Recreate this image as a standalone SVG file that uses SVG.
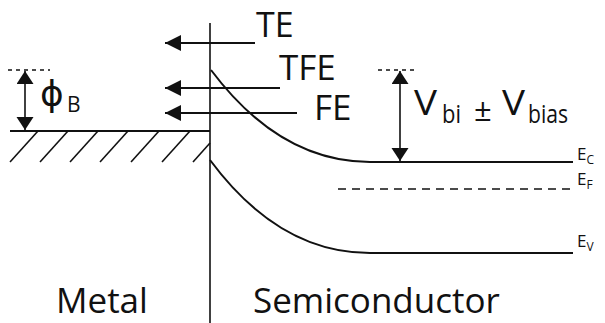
<svg xmlns="http://www.w3.org/2000/svg" width="605" height="323" viewBox="0 0 605 323">
<style>
.ln{stroke:#111;stroke-width:2;fill:none}
.thin{stroke:#111;stroke-width:1.6;fill:none}
.dash{stroke:#111;stroke-width:1.7;fill:none;stroke-dasharray:8 6}
.sdash{stroke:#111;stroke-width:1.5;fill:none;stroke-dasharray:4 4}
.t{font-family:"Open Sans","Noto Sans",sans-serif;fill:#111}
</style>
<defs>
<marker id="ah" markerUnits="userSpaceOnUse" markerWidth="17" markerHeight="17" refX="16" refY="8.5" orient="auto-start-reverse">
<path d="M0,0.5 L16,8.5 L0,16.5 z" fill="#111"/>
</marker>
<marker id="av" markerUnits="userSpaceOnUse" markerWidth="14" markerHeight="18" refX="13" refY="8.5" orient="auto-start-reverse">
<path d="M0,0 L13,8.5 L0,17 z" fill="#111"/>
</marker>
</defs>
<rect width="605" height="323" fill="#fff"/>
<g id="interface">
<line class="thin" x1="210" y1="23" x2="210" y2="323"/>
</g>
<g id="metal">
<line class="ln" x1="10" y1="131" x2="210" y2="131"/>
<g class="thin">
<line x1="38" y1="131" x2="10" y2="162"/>
<line x1="68" y1="131" x2="40" y2="162"/>
<line x1="98" y1="131" x2="70" y2="162"/>
<line x1="128" y1="131" x2="100" y2="162"/>
<line x1="159" y1="131" x2="131" y2="162"/>
<line x1="190" y1="131" x2="162" y2="162"/>
<line x1="210" y1="143" x2="193" y2="162"/>
</g>
<line class="sdash" x1="8" y1="70" x2="50" y2="70"/>
<line class="thin" x1="25" y1="71" x2="25" y2="130" marker-start="url(#av)" marker-end="url(#av)"/>
<text class="t" x="40" y="106" style="font-family:'DejaVu Sans',sans-serif" font-size="36">ϕ</text>
<text class="t" x="67" y="112" font-size="21">B</text>
<text class="t" x="56" y="313" font-size="35">Metal</text>
</g>
<g id="semiconductor">
<path class="ln" d="M211,70 Q280,162 370,162 L573,162"/>
<path class="ln" d="M210,160 Q279,253 370,253 L573,253"/>
<line class="dash" x1="338" y1="189" x2="570" y2="189"/>
<line class="sdash" x1="378" y1="70" x2="418" y2="70"/>
<line class="thin" x1="400" y1="71" x2="400" y2="161" marker-start="url(#av)" marker-end="url(#av)"/>
<text class="t" x="414" y="115" font-size="35" textLength="23" lengthAdjust="spacingAndGlyphs">V</text>
<text class="t" x="442" y="123" font-size="26" textLength="19" lengthAdjust="spacingAndGlyphs">bi</text>
<text class="t" x="474" y="121" font-size="31">±</text>
<text class="t" x="502" y="115" font-size="35" textLength="23" lengthAdjust="spacingAndGlyphs">V</text>
<text class="t" x="528" y="123" font-size="26" textLength="40" lengthAdjust="spacingAndGlyphs">bias</text>
<text class="t" x="577" y="160" font-size="17">E<tspan font-size="12" dy="4">C</tspan></text>
<text class="t" x="577" y="185" font-size="17">E<tspan font-size="12" dy="4">F</tspan></text>
<text class="t" x="577" y="247" font-size="17">E<tspan font-size="12" dy="4">V</tspan></text>
<text class="t" x="253" y="313" font-size="35">Semiconductor</text>
</g>
<g id="connectors">
<line class="ln" x1="255" y1="43" x2="165" y2="43" marker-end="url(#ah)"/>
<line class="ln" x1="280" y1="88" x2="165" y2="88" marker-end="url(#ah)"/>
<line class="ln" x1="297" y1="113" x2="165" y2="113" marker-end="url(#ah)"/>
<text class="t" x="256" y="36.5" font-size="34">TE</text>
<text class="t" x="279" y="80" font-size="35">TFE</text>
<text class="t" x="314" y="120" font-size="35">FE</text>
</g>
</svg>
